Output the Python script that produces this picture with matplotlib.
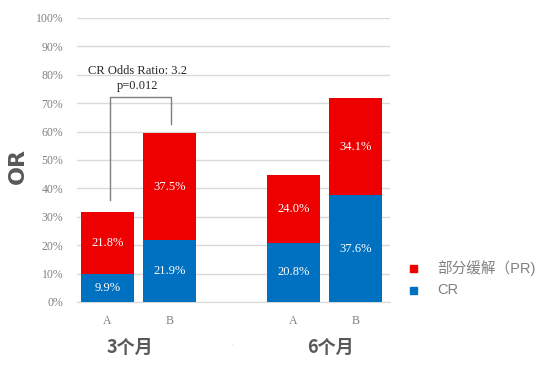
import matplotlib
matplotlib.use("Agg")
import matplotlib.pyplot as plt
from matplotlib.patches import Rectangle

groups = ["3个月", "6个月"]
arms = ["A", "B", "A", "B"]
cr = [9.9, 21.9, 20.8, 37.6]
pr = [21.8, 37.5, 24.0, 34.1]
yticks = [0, 10, 20, 30, 40, 50, 60, 70, 80, 90, 100]

red = "#EE0000"
blue = "#0070C0"
gray = "#595959"
lgray = "#808080"

fig = plt.figure(figsize=(5.54, 3.69), dpi=100)
ax = fig.add_axes([77/554, 1 - 302/369, (390-77)/554, (302-18)/369])

x = [0, 1, 3, 4]
w = 0.855
ax.bar(x, cr, width=w, color=blue, zorder=3)
ax.bar(x, pr, width=w, bottom=cr, color=red, zorder=3)

serif = ["Liberation Serif", "DejaVu Serif"]
for xi, c, p in zip(x, cr, pr):
    ax.text(xi, c / 2, f"{c:.1f}%", ha="center", va="center", color="white",
            fontsize=9, family=serif, zorder=4)
    ax.text(xi, c + p / 2, f"{p:.1f}%", ha="center", va="center", color="white",
            fontsize=9, family=serif, zorder=4)

ax.set_ylim(0, 100)
ax.set_xlim(-0.49, 4.56)
ax.set_yticks(yticks)
ax.set_yticklabels([f"{t}%" for t in yticks], family=serif, fontsize=8.5, color=lgray)
ax.set_xticks(x)
ax.set_xticklabels(arms, family=serif, fontsize=8.5, color=lgray)
ax.tick_params(length=0, pad=10)
ax.tick_params(axis="x", pad=9)
ax.grid(axis="y", color="#d9d9d9", linewidth=1, zorder=0)
for s in ["top", "right", "left"]:
    ax.spines[s].set_visible(False)
ax.spines["bottom"].set_color("#d9d9d9")

# bracket
bx0, bx1 = 0.05, 1.02
ax.plot([bx0, bx0, bx1, bx1], [35.9, 72.2, 72.2, 62.7], color="#7f7f7f",
        linewidth=1, zorder=5, clip_on=False)
ax.text((bx0 + bx1) / 2 - 0.05, 81.5, "CR Odds Ratio: 3.2", ha="center", va="center",
        family=serif, fontsize=9, color="#262626")
ax.text((bx0 + bx1) / 2 - 0.05, 76, "p=0.012", ha="center", va="center",
        family=serif, fontsize=9, color="#262626")

cjk = ["Noto Sans CJK SC", "DejaVu Sans"]
fig.text(130/554, 1 - 347/369, groups[0], ha="center", va="center", fontsize=13,
         fontweight="bold", color=gray, family=cjk)
fig.text(330/554, 1 - 347/369, groups[1], ha="center", va="center", fontsize=13,
         fontweight="bold", color=gray, family=cjk)
fig.text(231/554, 1 - 345/369, "·", ha="center", va="center", fontsize=5,
         color="#bfbfbf")

fig.text(18/554, 1 - 166/369, "OR", ha="center", va="center", rotation=90,
         fontsize=16, fontweight="bold", color=gray, family=["DejaVu Sans"])

# legend
leg_font = ["Liberation Sans", "Noto Sans CJK SC"]
for ty, col, lab in [(268, red, "部分缓解（PR)"), (290, blue, "CR")]:
    fig.patches.append(Rectangle((410/554, 1 - (ty + 3.5)/369), 7/554, 7/369,
                                 transform=fig.transFigure, color=col))
    fig.text(437/554, 1 - ty/369, lab, ha="left", va="center", fontsize=10.5,
             color=lgray, family=leg_font)

fig.savefig("out.png", dpi=100)
